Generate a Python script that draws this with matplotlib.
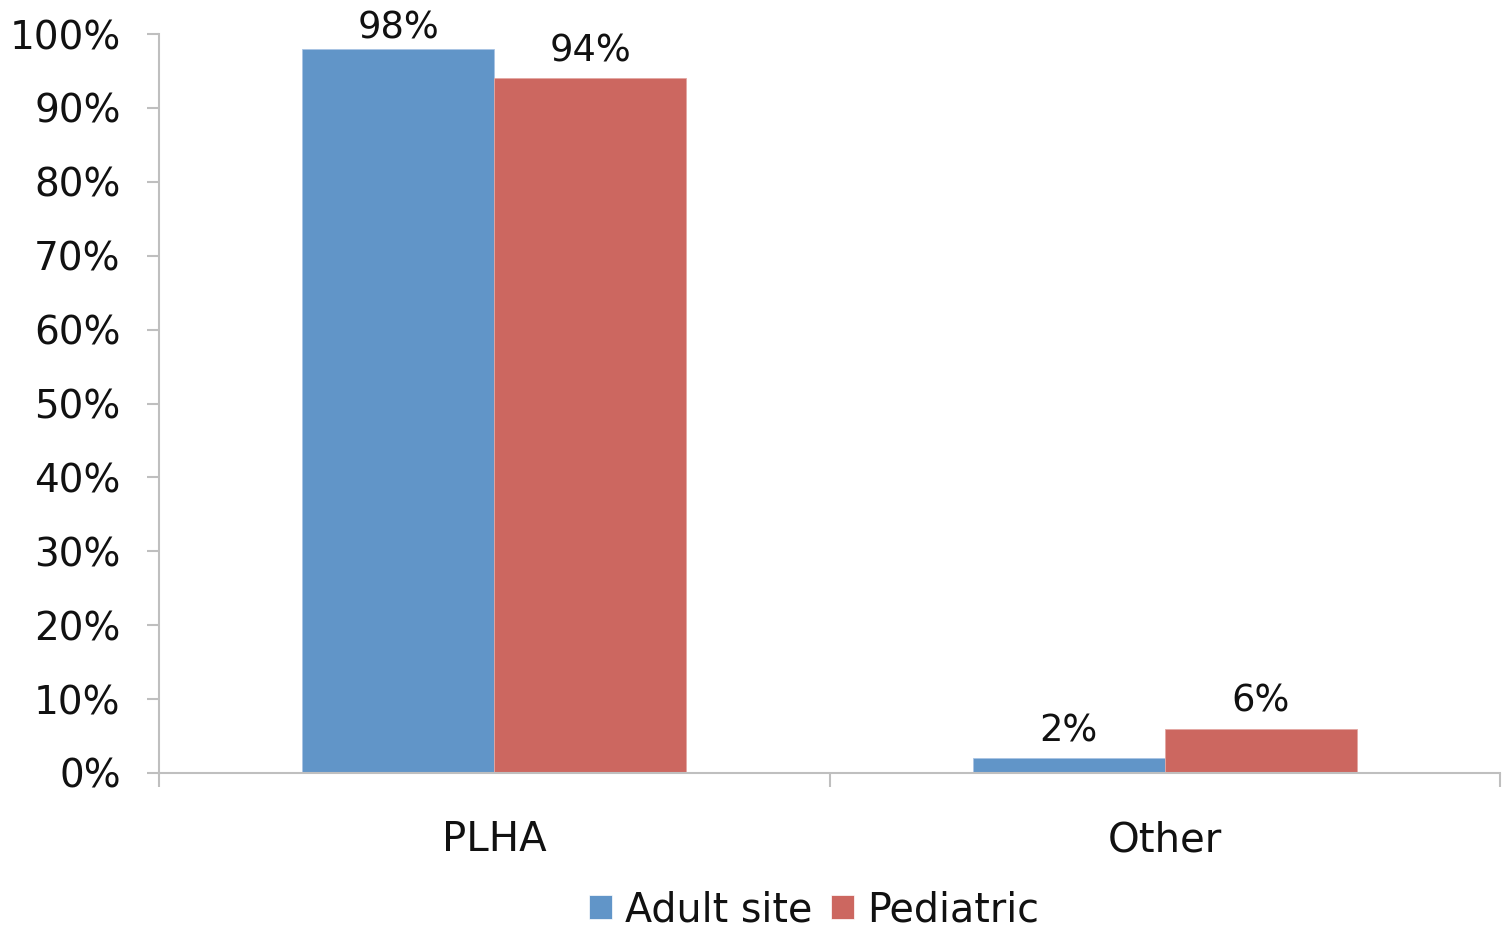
import numpy as np
from matplotlib import pyplot as plt
from matplotlib.patches import Patch
from matplotlib.ticker import PercentFormatter

categories = ["PLHA", "Other"]
series = ["Adult site", "Pediatric"]
adult = [0.98, 0.02]
pediatric = [0.94, 0.06]
colors = ["#6195C8", "#CC6760"]
yticks = np.arange(0, 1.01, 0.1)

plt.rcParams['font.family'] = ['DejaVu Sans']

fig = plt.figure(figsize=(15.02, 9.31), dpi=100)
ax = fig.add_axes([159 / 1502, 158 / 931, 1341 / 1502, 739 / 931])

x = np.arange(len(categories))
w = 0.286
b1 = ax.bar(x - w / 2, adult, w, color=colors[0], edgecolor="#A9C4E4", linewidth=0.6)
b2 = ax.bar(x + w / 2, pediatric, w, color=colors[1], edgecolor="#E3A7A3", linewidth=0.6)

for bars, vals in ((b1, adult), (b2, pediatric)):
    for r, v in zip(bars, vals):
        off = 2 if v > 0.95 else 6.5
        ax.annotate(f"{v * 100:.0f}%", (r.get_x() + r.get_width() / 2, v),
                    xytext=(0, off), textcoords="offset points",
                    ha="center", va="bottom", fontsize=26.5, color="#111111")

ax.set_xlim(-0.5, 1.5)
ax.set_ylim(0, 1)
ax.set_yticks(yticks)
ax.yaxis.set_major_formatter(PercentFormatter(1.0, decimals=0))

# boundaries as major ticks, names as minor ticks
ax.set_xticks([-0.5, 0.5, 1.5])
ax.set_xticklabels([])
ax.set_xticks(x, minor=True)
ax.set_xticklabels(categories, minor=True, fontsize=29)

for s in ("top", "right"):
    ax.spines[s].set_visible(False)
for s in ("left", "bottom"):
    ax.spines[s].set_color("#BFBFBF")
    ax.spines[s].set_linewidth(1.5)

ax.tick_params(axis="y", length=8.6, width=1.5, color="#BFBFBF", labelsize=28, pad=19, labelcolor="#111111")
ax.tick_params(axis="x", which="major", length=10, width=1.5, color="#BFBFBF")
ax.tick_params(axis="x", which="minor", length=0, pad=34, labelcolor="#111111")

handles = [Patch(facecolor=c, edgecolor="white", linewidth=0.5) for c in colors]
fig.legend(handles, series, loc="center", bbox_to_anchor=(814 / 1502, 1 - 910 / 931),
           ncol=2, frameon=False, fontsize=28.5, handlelength=0.58, handleheight=0.58,
           handletextpad=0.35, columnspacing=0.45, labelcolor="#111111",
           borderpad=0.1)

fig.savefig("out.png", dpi=100)
